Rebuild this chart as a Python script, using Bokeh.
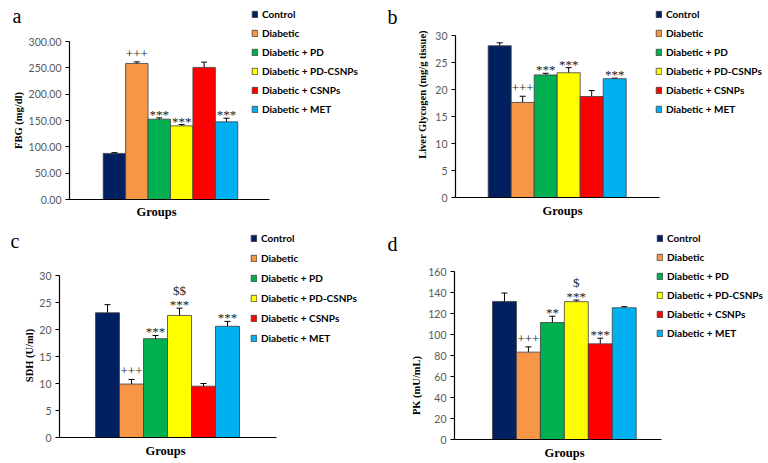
import math
from bokeh.plotting import figure
from bokeh.models import (ColumnDataSource, Whisker, LabelSet, Label, Legend, LegendItem,
                          FixedTicker, NumeralTickFormatter, Range1d, TeeHead)
from bokeh.layouts import column, row
from bokeh.embed import file_html
from bokeh.resources import INLINE

# ---------------- data ----------------
groups = ["Control", "Diabetic", "Diabetic + PD", "Diabetic + PD-CSNPs",
          "Diabetic + CSNPs", "Diabetic + MET"]
colors = ["#002060", "#F79646", "#00B050", "#FFFF00", "#FF0000", "#00B0F0"]

fbg_mean = [87.5, 258.3, 152.5, 139.8, 250.8, 147.4]
fbg_err = [1.5, 3.0, 2.5, 2.5, 10.0, 7.0]
fbg_sig = ["", "+++", "***", "***", "", "***"]
fbg_sig2 = ["", "", "", "", "", ""]
fbg_ticks = [0, 50, 100, 150, 200, 250, 300]

glyc_mean = [28.1, 17.6, 22.7, 23.1, 18.7, 22.0]
glyc_err = [0.55, 1.15, 0.3, 0.95, 1.1, 0.1]
glyc_sig = ["", "+++", "***", "***", "", "***"]
glyc_sig2 = ["", "", "", "", "", ""]
glyc_ticks = [0, 5, 10, 15, 20, 25, 30]

sdh_mean = [23.1, 9.9, 18.3, 22.6, 9.5, 20.6]
sdh_err = [1.5, 0.85, 0.6, 1.35, 0.5, 0.9]
sdh_sig = ["", "+++", "***", "***", "", "***"]
sdh_sig2 = ["", "", "", "$$", "", ""]
sdh_ticks = [0, 5, 10, 15, 20, 25, 30]

pk_mean = [131.5, 83.2, 111.4, 131.3, 91.1, 125.5]
pk_err = [8.0, 5.0, 6.0, 1.5, 5.4, 1.0]
pk_sig = ["", "+++", "**", "***", "***", ""]
pk_sig2 = ["", "", "", "$", "", ""]
pk_ticks = [0, 20, 40, 60, 80, 100, 120, 140, 160]

SERIF = "Liberation Serif"
SANS = "Lato"
W = 384


def make_panel(letter, ylabel, means, errs, sig, sig2, ticks, fmt, H,
               geom, legend_geom, letter_xy, ylabel_xy, groups_xy):
    L0, w, axl, axr, y0, ytop = geom
    ymax = ticks[-1]
    x_start = -0.5 - L0 / w
    x_end = -0.5 + (W - L0) / w
    k = (y0 - ytop) / ymax
    y_start = -(H - y0) / k
    y_end = y0 / k
    ax_x0 = -0.5 + (axl - L0) / w
    ax_x1 = -0.5 + (axr - L0) / w

    p = figure(width=W, height=H, output_backend="svg", toolbar_location=None,
               x_range=Range1d(x_start, x_end), y_range=Range1d(y_start, y_end),
               min_border_left=0, min_border_right=0, min_border_top=0, min_border_bottom=0)
    p.outline_line_color = None
    p.grid.visible = False
    p.background_fill_color = "white"
    p.border_fill_color = "white"

    xs = list(range(len(groups)))
    src = ColumnDataSource(dict(x=xs, top=means, color=colors, name=groups,
                                upper=[m + e for m, e in zip(means, errs)],
                                lower=[m - e for m, e in zip(means, errs)]))
    bars = p.vbar(x="x", top="top", bottom=0, width=1.0, source=src, fill_color="color",
                  line_color="#404040", line_width=0.8)

    p.add_layout(Whisker(source=src, base="x", upper="upper", lower="lower",
                         line_color="black", line_width=1,
                         upper_head=TeeHead(size=6, line_color="black", line_width=1),
                         lower_head=TeeHead(size=6, line_color="black", line_width=1)))

    # significance marks
    plus_x, plus_y, plus_t = [], [], []
    star_x, star_y, star_t = [], [], []
    dol_x, dol_y, dol_t = [], [], []
    for i, (s, s2) in enumerate(zip(sig, sig2)):
        up = means[i] + errs[i]
        if s.startswith("+"):
            plus_x.append(xs[i]); plus_y.append(up); plus_t.append(s)
        elif s:
            star_x.append(xs[i]); star_y.append(up); star_t.append(s)
        if s2:
            dol_x.append(xs[i]); dol_y.append(up); dol_t.append(s2)
    common = dict(text_font=SERIF, text_font_size="13px", text_color="#222222",
                  text_align="center", text_baseline="alphabetic")
    p.add_layout(LabelSet(source=ColumnDataSource(dict(x=plus_x, y=plus_y, t=plus_t)),
                          x="x", y="y", text="t", y_offset=4, **common))
    p.add_layout(LabelSet(source=ColumnDataSource(dict(x=star_x, y=star_y, t=star_t)),
                          x="x", y="y", text="t", y_offset=-1, **common))
    p.add_layout(LabelSet(source=ColumnDataSource(dict(x=dol_x, y=dol_y, t=dol_t)),
                          x="x", y="y", text="t", y_offset=13, **common))

    # axes (drawn inside the frame at fixed positions)
    ax = p.yaxis[0]
    ax.fixed_location = ax_x0
    ax.ticker = FixedTicker(ticks=ticks)
    ax.formatter = NumeralTickFormatter(format=fmt)
    ax.bounds = (0, ymax)
    ax.axis_line_color = "black"
    ax.axis_line_width = 1.2
    ax.major_tick_line_color = "black"
    ax.major_tick_out = 4
    ax.major_tick_in = 0
    ax.minor_tick_line_color = None
    ax.major_label_text_font = SANS
    ax.major_label_text_font_size = "10.5px"
    ax.major_label_text_color = "#595959"
    ax.major_label_standoff = 4

    xa = p.xaxis[0]
    xa.fixed_location = 0
    xa.bounds = (ax_x0, ax_x1)
    xa.ticker = FixedTicker(ticks=[])
    xa.axis_line_color = "black"
    xa.axis_line_width = 1.2
    xa.major_tick_line_color = None
    xa.minor_tick_line_color = None
    xa.major_label_text_font_size = "0px"

    # legend
    gx, top_px, spacing = legend_geom
    total_h = 6 * 12 + 5 * spacing
    items = [LegendItem(label=g, renderers=[bars], index=i) for i, g in enumerate(groups)]
    leg = Legend(items=items, location=(gx, H - (top_px + total_h)), orientation="vertical",
                 glyph_width=7, glyph_height=8, label_height=12, label_standoff=4,
                 spacing=spacing, padding=0, margin=0,
                 border_line_color=None, background_fill_alpha=0,
                 label_text_font=SANS, label_text_font_style="bold",
                 label_text_font_size="10px", label_text_color="black")
    p.add_layout(leg)

    p.add_layout(Label(x=letter_xy[0], y=H - letter_xy[1], x_units="screen", y_units="screen",
                       text=letter, text_font=SERIF, text_font_size="20px",
                       text_color="black", text_baseline="alphabetic", text_align="left"))
    p.add_layout(Label(x=ylabel_xy[0], y=H - ylabel_xy[1], x_units="screen", y_units="screen",
                       text=ylabel, angle=math.pi / 2, text_font=SERIF,
                       text_font_style="bold", text_font_size="10.5px", text_color="black",
                       text_align="center", text_baseline="middle"))
    p.add_layout(Label(x=groups_xy[0], y=H - groups_xy[1], x_units="screen", y_units="screen",
                       text="Groups", text_font=SERIF, text_font_style="bold",
                       text_font_size="12.5px", text_color="black",
                       text_align="center", text_baseline="middle"))
    return p


pa = make_panel("a", "FBG (mg/dl)", fbg_mean, fbg_err, fbg_sig, fbg_sig2, fbg_ticks, "0.00",
                230, (102.7, 22.43, 69, 269, 199, 41), (251, 8, 7),
                (12, 15), (18, 120), (156, 211))
pb = make_panel("b", "Liver Glycogen (mg/g tissue)", glyc_mean, glyc_err, glyc_sig, glyc_sig2,
                glyc_ticks, "0", 230, (103.7, 23.0, 71, 275, 197, 35), (271, 8, 7),
                (3, 16), (38, 94), (178, 210))
pc = make_panel("c", "SDH (U/ml)", sdh_mean, sdh_err, sdh_sig, sdh_sig2, sdh_ticks, "0",
                233, (95.0, 24.0, 59, 276, 207, 45), (250, 2, 8),
                (10, 10), (29, 125), (165, 220))
pd_ = make_panel("d", "PK (mU/mL)", pk_mean, pk_err, pk_sig, pk_sig2, pk_ticks, "0",
                 233, (108.0, 23.95, 70, 277, 209, 41), (272, 2, 7),
                 (3, 13), (32, 155), (180, 222))

layout = column(row(pa, pb), row(pc, pd_))
open("out.html", "w").write(file_html(layout, INLINE))
